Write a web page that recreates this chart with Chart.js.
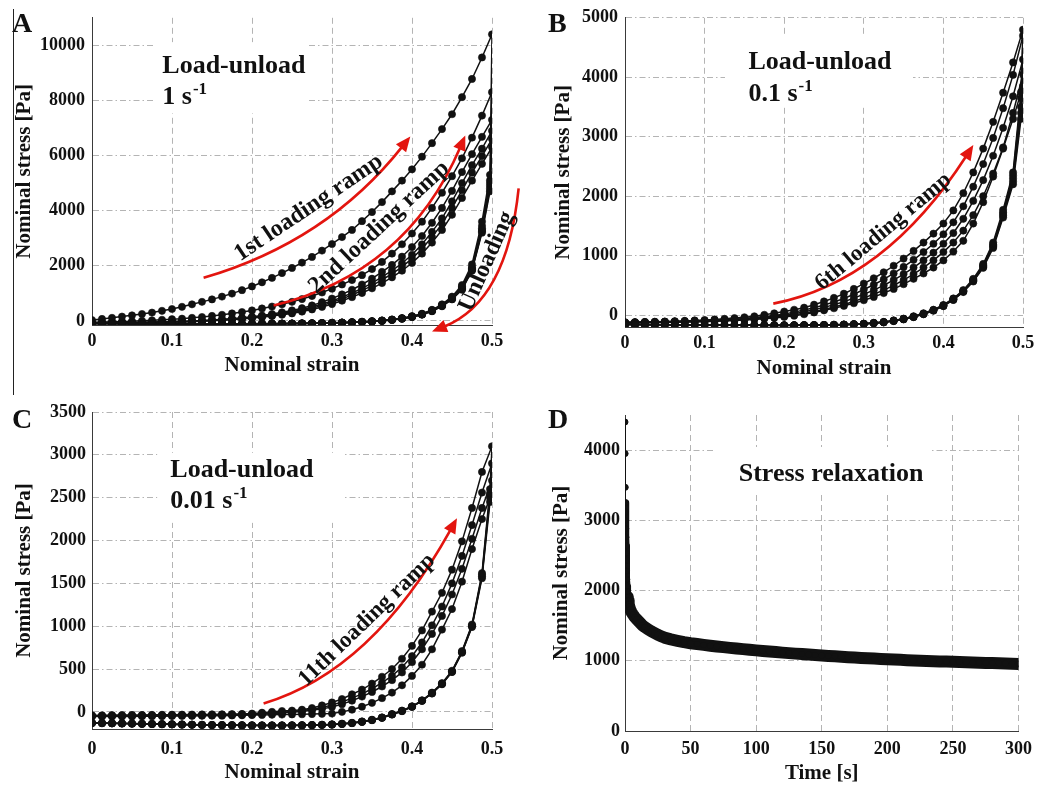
<!DOCTYPE html>
<html lang="en">
<head>
  <meta charset="UTF-8">
  <title>Load-unload and stress relaxation</title>
  <script src="https://cdn.jsdelivr.net/npm/chart.js"></script>
  <style>
    body { margin: 0; background: #fff; }
    #fig { position: relative; width: 1040px; height: 786px; }
    canvas { position: absolute; }
    .rule { position: absolute; left: 13px; top: 9px; width: 1px; height: 386px; background: #222; }
  </style>
</head>
<body>
  <div id="fig">
    <div class="rule"></div>
    <canvas id="panelA" width="520" height="390" style="left:0;top:0"></canvas>
    <canvas id="panelB" width="520" height="390" style="left:520px;top:0"></canvas>
    <canvas id="panelC" width="520" height="396" style="left:0;top:390px"></canvas>
    <canvas id="panelD" width="520" height="396" style="left:520px;top:390px"></canvas>
  </div>

  <script>
    // ---- strain grids (loading goes up, unloading comes back down) ----
    const strain = [0, 0.0125, 0.025, 0.0375, 0.05, 0.0625, 0.075, 0.0875, 0.1, 0.1125, 0.125, 0.1375, 0.15, 0.1625,
      0.175, 0.1875, 0.2, 0.2125, 0.225, 0.2375, 0.25, 0.2625, 0.275, 0.2875, 0.3, 0.3125, 0.325, 0.3375, 0.35, 0.3625,
      0.375, 0.3875, 0.4, 0.4125, 0.425, 0.4375, 0.45, 0.4625, 0.475, 0.4875, 0.5];
    const unloadStrain = [0.4975, 0.4875, 0.475, 0.4625, 0.45, 0.4375, 0.425, 0.4125, 0.4, 0.3875, 0.375, 0.3625, 0.35,
      0.3375, 0.325, 0.3125, 0.3, 0.2875, 0.275, 0.2625, 0.25, 0.2375, 0.225, 0.2125, 0.2, 0.1875, 0.175, 0.1625, 0.15,
      0.1375, 0.125, 0.1125, 0.1, 0.0875, 0.075, 0.0625, 0.05, 0.0375, 0.025, 0.0125, 0];

    const strainTicks = [0, 0.1, 0.2, 0.3, 0.4, 0.5];
    const stressTicksA = [0, 2000, 4000, 6000, 8000, 10000];
    const stressTicksB = [0, 1000, 2000, 3000, 4000, 5000];
    const stressTicksC = [0, 500, 1000, 1500, 2000, 2500, 3000, 3500];
    const stressTicksD = [0, 1000, 2000, 3000, 4000];
    const timeTicks = [0, 50, 100, 150, 200, 250, 300];

    // ---- A: 1 s^-1, six cycles ----
    const aLoad1 = [30, 70, 110, 155, 200, 250, 300, 365, 430, 510, 600, 690, 780, 880, 990, 1115, 1250, 1400, 1560, 1735,
      1920, 2115, 2320, 2550, 2790, 3040, 3300, 3620, 3950, 4310, 4700, 5090, 5500, 5960, 6450, 6960, 7500, 8120, 8780, 9560, 10400];
    const aLoad2 = [-50, -40, -30, -20, -10, 5, 20, 40, 60, 80, 110, 140, 180, 220, 270, 320, 380, 450, 520, 600,
      690, 790, 900, 1030, 1170, 1320, 1480, 1660, 1880, 2140, 2440, 2780, 3170, 3600, 4100, 4650, 5250, 5900, 6650, 7450, 8300];
    const aLoad3 = [-75, -70, -65, -60, -55, -50, -45, -35, -25, -15, -5, 10, 30, 55, 80, 110, 150, 195, 250, 310,
      380, 460, 560, 680, 810, 960, 1130, 1320, 1530, 1780, 2030, 2330, 2680, 3080, 3560, 4100, 4720, 5400, 6050, 6680, 7300];
    const aLoad4 = [-80, -75, -70, -65, -60, -55, -50, -40, -30, -20, -10, 5, 20, 40, 65, 95, 130, 170, 215, 270,
      330, 400, 500, 610, 720, 860, 1010, 1180, 1370, 1600, 1820, 2090, 2400, 2780, 3230, 3720, 4340, 5000, 5650, 6250, 6900];
    const aLoad5 = [-85, -80, -75, -70, -65, -60, -55, -50, -40, -30, -20, -5, 10, 30, 55, 85, 115, 150, 195, 245,
      300, 370, 460, 560, 670, 800, 940, 1100, 1280, 1490, 1710, 1960, 2260, 2620, 3040, 3520, 4100, 4740, 5380, 5980, 6600];
    const aLoad6 = [-90, -85, -80, -75, -70, -65, -60, -55, -50, -40, -30, -15, 0, 20, 45, 70, 100, 135, 175, 220,
      270, 335, 415, 505, 610, 730, 860, 1010, 1180, 1370, 1580, 1820, 2100, 2440, 2840, 3300, 3850, 4460, 5090, 5700, 6300];

    const aUnload1 = [5300, 3600, 2050, 1300, 880, 600, 400, 260, 170, 100, 50, 15, -10, -30, -45, -60, -70, -80, -85, -90,
      -95, -95, -100, -100, -100, -105, -105, -105, -110, -110, -110, -110, -110, -110, -105, -105, -105, -100, -100, -100, -95];
    const aUnload2 = [5100, 3450, 1950, 1250, 850, 580, 390, 250, 160, 95, 45, 10, -15, -35, -50, -62, -72, -80, -88, -92,
      -96, -100, -100, -104, -106, -108, -108, -110, -112, -112, -112, -110, -110, -108, -106, -104, -102, -100, -98, -96, -94];
    const aUnload3 = [5000, 3350, 1900, 1200, 820, 560, 370, 240, 150, 90, 40, 5, -20, -38, -52, -64, -74, -82, -90, -94,
      -98, -100, -102, -105, -107, -108, -110, -110, -112, -113, -112, -112, -110, -108, -106, -104, -102, -100, -98, -96, -95];
    const aUnload4 = [4900, 3300, 1870, 1180, 800, 550, 360, 235, 145, 85, 38, 2, -22, -40, -55, -66, -75, -83, -90, -95,
      -98, -101, -103, -105, -107, -108, -110, -111, -112, -113, -113, -112, -110, -109, -107, -105, -103, -101, -99, -97, -95];
    const aUnload5 = [4800, 3250, 1850, 1150, 790, 540, 355, 230, 140, 80, 35, 0, -24, -42, -56, -67, -76, -84, -91, -95,
      -99, -102, -104, -106, -108, -109, -110, -112, -113, -114, -114, -113, -111, -110, -108, -106, -104, -102, -100, -98, -96];
    const aUnload6 = [4700, 3200, 1820, 1130, 780, 530, 350, 225, 138, 78, 33, -2, -26, -44, -58, -68, -77, -85, -92, -96,
      -100, -103, -105, -107, -109, -110, -111, -113, -114, -115, -115, -114, -112, -111, -109, -107, -105, -103, -101, -99, -97];

    // ---- B: 0.1 s^-1 ----
    const bLoad1 = [-120, -118, -115, -112, -108, -103, -97, -90, -82, -73, -62, -50, -36, -20, 5, 30, 60, 90, 125, 175,
      230, 290, 360, 440, 530, 620, 720, 830, 950, 1080, 1220, 1370, 1540, 1760, 2050, 2400, 2800, 3250, 3740, 4250, 4800];
    const bLoad2 = [-122, -120, -117, -114, -110, -106, -102, -97, -92, -86, -78, -68, -56, -42, -25, -5, 20, 50, 85, 125,
      170, 220, 280, 350, 430, 510, 600, 700, 810, 930, 1060, 1200, 1360, 1560, 1830, 2160, 2540, 2980, 3480, 4040, 4700];
    const bLoad3 = [-125, -123, -120, -117, -114, -110, -106, -101, -96, -90, -83, -74, -64, -52, -38, -20, 0, 25, 55, 90,
      130, 175, 225, 285, 350, 420, 500, 590, 690, 800, 920, 1050, 1200, 1380, 1620, 1920, 2270, 2680, 3150, 3680, 4300];
    const bLoad4 = [-127, -125, -123, -120, -117, -114, -110, -106, -101, -96, -90, -82, -73, -62, -49, -33, -15, 5, 30, 60,
      95, 135, 180, 230, 290, 350, 420, 500, 590, 690, 800, 920, 1060, 1220, 1420, 1680, 2000, 2380, 2820, 3400, 4050];
    const bLoad5 = [-130, -128, -126, -124, -122, -120, -117, -114, -110, -105, -100, -92, -84, -74, -62, -48, -30, -10, 15, 45,
      80, 115, 155, 200, 250, 305, 370, 440, 520, 610, 700, 800, 920, 1070, 1250, 1540, 1900, 2330, 2800, 3300, 3850];

    const bUnload1 = [3750, 2400, 1770, 1220, 860, 610, 420, 280, 170, 90, 30, -20, -60, -90, -115, -130, -145, -152, -158, -162,
      -165, -167, -168, -170, -170, -170, -170, -170, -168, -168, -167, -166, -165, -165, -164, -163, -162, -162, -161, -160, -160];
    const bUnload2 = [3650, 2350, 1730, 1190, 840, 595, 410, 272, 165, 86, 26, -24, -63, -93, -117, -132, -146, -153, -159, -163,
      -166, -168, -169, -170, -171, -171, -170, -169, -168, -167, -166, -165, -164, -163, -162, -161, -160, -159, -158, -157, -156];
    const bUnload3 = [3500, 2300, 1700, 1170, 825, 585, 402, 266, 160, 82, 22, -28, -66, -96, -119, -134, -147, -154, -160, -164,
      -167, -169, -170, -171, -172, -172, -171, -170, -169, -168, -167, -166, -165, -164, -163, -162, -161, -160, -159, -158, -157];
    const bUnload4 = [3400, 2250, 1670, 1150, 810, 575, 395, 260, 155, 78, 18, -31, -69, -98, -121, -136, -148, -155, -161, -165,
      -168, -170, -171, -172, -173, -173, -172, -171, -170, -169, -168, -167, -166, -165, -164, -163, -162, -161, -160, -159, -158];
    const bUnload5 = [3300, 2200, 1640, 1130, 795, 565, 388, 255, 150, 74, 14, -34, -72, -100, -123, -138, -149, -156, -162, -166,
      -169, -171, -172, -173, -174, -174, -173, -172, -171, -170, -169, -168, -167, -166, -165, -164, -163, -162, -161, -160, -159];

    // ---- C: 0.01 s^-1 ----
    const cLoad1 = [-40, -40, -38, -38, -36, -36, -35, -34, -33, -32, -31, -30, -29, -28, -26, -24, -20, -10, 0, 10,
      15, 25, 45, 75, 110, 150, 205, 260, 330, 410, 500, 620, 770, 950, 1170, 1390, 1660, 1990, 2380, 2800, 3100];
    const cLoad2 = [-45, -45, -44, -43, -42, -41, -40, -39, -38, -37, -36, -35, -34, -33, -32, -30, -27, -20, -12, -5,
      5, 15, 30, 50, 80, 115, 160, 210, 270, 340, 420, 520, 650, 810, 1010, 1230, 1500, 1820, 2180, 2560, 2900];
    const cLoad3 = [-50, -50, -49, -48, -47, -46, -45, -44, -43, -42, -41, -40, -39, -38, -36, -34, -31, -26, -20, -12,
      -4, 5, 18, 35, 58, 90, 130, 178, 232, 296, 370, 460, 580, 730, 910, 1120, 1370, 1670, 2020, 2380, 2700];
    const cLoad4 = [-55, -55, -54, -54, -53, -52, -51, -50, -49, -48, -47, -46, -45, -44, -42, -40, -38, -36, -34, -32,
      -30, -28, -26, -23, -20, 0, 25, 60, 105, 160, 225, 310, 420, 550, 730, 960, 1200, 1520, 1900, 2250, 2560];

    const cUnload1 = [2600, 1620, 1020, 710, 480, 335, 225, 135, 65, 15, -25, -65, -92, -112, -128, -138, -146, -150, -153, -155,
      -156, -157, -157, -157, -156, -155, -154, -153, -152, -150, -148, -146, -144, -142, -140, -138, -136, -134, -132, -130, -128];
    const cUnload2 = [2550, 1600, 1010, 700, 472, 330, 220, 132, 62, 12, -28, -67, -94, -114, -130, -140, -147, -151, -154, -156,
      -157, -158, -158, -158, -157, -156, -155, -154, -153, -151, -149, -147, -145, -143, -141, -139, -137, -135, -133, -131, -129];
    const cUnload3 = [2500, 1580, 1000, 695, 468, 326, 217, 130, 60, 10, -30, -69, -96, -116, -131, -141, -148, -152, -155, -157,
      -158, -159, -159, -159, -158, -157, -156, -155, -154, -152, -150, -148, -146, -144, -142, -140, -138, -136, -134, -132, -130];
    const cUnload4 = [2450, 1560, 990, 690, 465, 322, 214, 128, 58, 8, -32, -70, -97, -117, -132, -142, -149, -153, -156, -158,
      -159, -160, -160, -160, -159, -158, -157, -156, -155, -153, -151, -149, -147, -145, -143, -141, -139, -137, -135, -133, -131];

    // ---- D: stress relaxation ----
    const relaxTime = [0, 0.1, 0.2, 0.3, 0.4, 0.5, 0.6, 0.7, 0.8, 0.9, 1, 1.2, 1.4, 1.6, 1.8, 2.1, 2.4, 2.8, 3.3, 4, 5, 6,
      7.5, 9, 11, 13, 15, 17.5, 20, 22.5, 25, 27.5, 30, 35, 40, 45, 50, 55, 60, 65, 70, 75, 80, 85, 90, 95, 100, 105, 110,
      115, 120, 125, 130, 135, 140, 145, 150, 155, 160, 165, 170, 175, 180, 185, 190, 195, 200, 205, 210, 215, 220, 225,
      230, 235, 240, 245, 250, 255, 260, 265, 270, 275, 280, 285, 290, 295, 300];
    const relaxStress = [4400, 3950, 3470, 3250, 3120, 3000, 2880, 2760, 2640, 2530, 2430, 2280, 2160, 2060, 1980, 1910,
      1860, 1810, 1770, 1730, 1690, 1660, 1620, 1590, 1550, 1510, 1480, 1450, 1420, 1395, 1370, 1350, 1330, 1305, 1285,
      1265, 1250, 1238, 1226, 1215, 1204, 1194, 1184, 1175, 1166, 1157, 1148, 1140, 1132, 1124, 1116, 1109, 1102, 1095,
      1088, 1081, 1075, 1069, 1063, 1057, 1051, 1046, 1041, 1036, 1031, 1026, 1021, 1017, 1013, 1009, 1005, 1001, 997,
      994, 991, 988, 985, 982, 979, 976, 973, 970, 967, 964, 961, 958, 955];

    // ---- drawing ----
    const serif = '"Liberation Serif", "Times New Roman", serif';
    const ink = '#111';
    const arrowRed = '#e3150f';

    const curveStyle = {
      showLine: true, borderColor: ink, borderWidth: 1.5,
      pointStyle: 'circle', pointRadius: 3.6, pointHoverRadius: 3.6,
      pointBackgroundColor: ink, pointBorderColor: ink, pointBorderWidth: 0.6
    };

    function cycle(load, unload) {
      const up = strain.map((s, i) => ({x: s, y: load[i]}));
      const down = unloadStrain.map((s, i) => ({x: s, y: unload[i]}));
      return {...curveStyle, data: up.concat(down)};
    }

    // annotations: data coordinates for boxes, arrows and rotated labels
    const notes = {
      panelA: {
        letter: {text: 'A', x: 12, y: 32},
        box: [0.0766, 10117, 0.2704, 7533],
        heading: [{text: 'Load-unload', x: 0.0879, y: 8995}, {text: '1 s', sup: '-1', x: 0.0879, y: 7876}],
        arrows: [
          {from: [0.1395, 1561], ctrl: [0.294, 2874], to: [0.3979, 6694]},
          {from: [0.227, 559], ctrl: [0.393, 1735], to: [0.4666, 6729]},
          {from: [0.5333, 4807], ctrl: [0.5187, 701], to: [0.425, -386]}
        ],
        tags: [
          {text: '1st loading ramp', x: 0.2708, y: 4099, angle: -34, size: 24},
          {text: '2nd loading ramp', x: 0.359, y: 3391, angle: -43, size: 24},
          {text: 'Unloading', x: 0.4937, y: 2152, angle: -66, size: 24}
        ]
      },
      panelB: {
        letter: {text: 'B', x: 28, y: 32},
        box: [0.1256, 4700, 0.3618, 3498],
        heading: [{text: 'Load-unload', x: 0.155, y: 4137}, {text: '0.1 s', sup: '-1', x: 0.155, y: 3602}],
        arrows: [{from: [0.1863, 193], ctrl: [0.3269, 561], to: [0.4376, 2860]}],
        tags: [{text: '6th loading ramp', x: 0.3245, y: 1403, angle: -40, size: 23}]
      },
      panelC: {
        letter: {text: 'C', x: 12, y: 38},
        box: [0.0816, 3024, 0.3141, 2206],
        heading: [{text: 'Load-unload', x: 0.0979, y: 2740}, {text: '0.01 s', sup: '-1', x: 0.0979, y: 2377}],
        arrows: [{from: [0.2145, 98], ctrl: [0.3504, 479], to: [0.4562, 2260]}],
        tags: [{text: '11th loading ramp', x: 0.3437, y: 1072, angle: -44, size: 23}]
      },
      panelD: {
        letter: {text: 'D', x: 28, y: 38},
        box: [69.3, 4044, 232.2, 3404],
        heading: [{text: 'Stress relaxation', x: 86.7, y: 3565}],
        arrows: [],
        tags: []
      }
    };

    function drawArrow(ctx, xs, ys, a) {
      const p0 = [xs.getPixelForValue(a.from[0]), ys.getPixelForValue(a.from[1])];
      const c = [xs.getPixelForValue(a.ctrl[0]), ys.getPixelForValue(a.ctrl[1])];
      const tip = [xs.getPixelForValue(a.to[0]), ys.getPixelForValue(a.to[1])];
      const len = Math.hypot(tip[0] - c[0], tip[1] - c[1]);
      const ux = (tip[0] - c[0]) / len, uy = (tip[1] - c[1]) / len;
      const head = 15, half = 6.5;
      const bx = tip[0] - ux * head, by = tip[1] - uy * head;
      ctx.strokeStyle = arrowRed;
      ctx.fillStyle = arrowRed;
      ctx.lineWidth = 2.6;
      ctx.beginPath();
      ctx.moveTo(p0[0], p0[1]);
      ctx.quadraticCurveTo(c[0], c[1], bx + ux * 2, by + uy * 2);
      ctx.stroke();
      ctx.beginPath();
      ctx.moveTo(tip[0], tip[1]);
      ctx.lineTo(bx - uy * half, by + ux * half);
      ctx.lineTo(bx + uy * half, by - ux * half);
      ctx.closePath();
      ctx.fill();
    }

    const notesPlugin = {
      id: 'notes',
      beforeDatasetsDraw(chart) {
        const n = notes[chart.canvas.id];
        const {ctx} = chart;
        const xs = chart.scales.x, ys = chart.scales.y;
        const [x0, y0, x1, y1] = n.box;
        const l = xs.getPixelForValue(x0), t = ys.getPixelForValue(y0);
        ctx.save();
        ctx.fillStyle = '#fff';
        ctx.fillRect(l, t, xs.getPixelForValue(x1) - l, ys.getPixelForValue(y1) - t);
        ctx.fillStyle = ink;
        ctx.textBaseline = 'alphabetic';
        ctx.textAlign = 'left';
        n.heading.forEach(h => {
          const hx = xs.getPixelForValue(h.x), hy = ys.getPixelForValue(h.y);
          ctx.font = `bold 26px ${serif}`;
          ctx.fillText(h.text, hx, hy);
          if (h.sup) {
            const w = ctx.measureText(h.text).width;
            ctx.font = `bold 17px ${serif}`;
            ctx.fillText(h.sup, hx + w + 1, hy - 10);
          }
        });
        ctx.restore();
      },
      afterDatasetsDraw(chart) {
        const n = notes[chart.canvas.id];
        const {ctx} = chart;
        const xs = chart.scales.x, ys = chart.scales.y;
        ctx.save();
        n.arrows.forEach(a => drawArrow(ctx, xs, ys, a));
        ctx.fillStyle = ink;
        ctx.textAlign = 'center';
        ctx.textBaseline = 'middle';
        n.tags.forEach(t => {
          ctx.save();
          ctx.translate(xs.getPixelForValue(t.x), ys.getPixelForValue(t.y));
          ctx.rotate(t.angle * Math.PI / 180);
          ctx.font = `bold ${t.size}px ${serif}`;
          ctx.fillText(t.text, 0, 0);
          ctx.restore();
        });
        ctx.restore();
      },
      afterDraw(chart) {
        const n = notes[chart.canvas.id];
        const ctx = chart.ctx;
        ctx.save();
        ctx.font = `bold 28px ${serif}`;
        ctx.fillStyle = ink;
        ctx.textAlign = 'left';
        ctx.textBaseline = 'alphabetic';
        ctx.fillText(n.letter.text, n.letter.x, n.letter.y);
        ctx.restore();
      }
    };

    function axis(a, horizontal, size) {
      return {
        type: 'linear',
        min: a.min,
        max: a.max,
        afterFit: s => { if (horizontal) s.height = size; else s.width = size; },
        afterBuildTicks: s => { s.ticks = a.ticks.map(v => ({value: v})); },
        ticks: {
          padding: a.tickPad, color: ink, autoSkip: false, maxRotation: 0,
          font: {family: serif, size: 18, weight: 'bold'},
          callback: v => String(v)
        },
        grid: {color: '#b4b4b4', lineWidth: 1, drawTicks: false},
        border: {display: true, color: '#3a3a3a', width: 1, dash: horizontal ? [6, 4] : [6, 3, 1.5, 3]},
        title: {
          display: true, text: a.title, color: ink,
          font: {family: serif, size: 21, weight: 'bold', lineHeight: 1},
          padding: horizontal ? {top: 0, bottom: a.titlePad} : {top: a.titlePad, bottom: 0}
        }
      };
    }

    function makePanel(id, p) {
      const canvas = document.getElementById(id);
      return new Chart(canvas, {
        type: 'scatter',
        data: {datasets: p.datasets},
        options: {
          responsive: false,
          animation: false,
          events: [],
          layout: {padding: {left: 0, top: p.area.top, right: canvas.width - p.area.right, bottom: 0}},
          plugins: {legend: {display: false}, tooltip: {enabled: false}},
          scales: {
            x: axis(p.x, true, canvas.height - p.area.bottom),
            y: axis(p.y, false, p.area.left)
          }
        },
        plugins: [notesPlugin]
      });
    }

    makePanel('panelA', {
      area: {left: 92, right: 492, top: 10, bottom: 325},
      x: {min: 0, max: 0.5, ticks: strainTicks, tickPad: 6, title: 'Nominal strain', titlePad: 13.7},
      y: {min: -150, max: 11000, ticks: stressTicksA, tickPad: 7, title: 'Nominal stress [Pa]', titlePad: 14.5},
      datasets: [
        cycle(aLoad1, aUnload1), cycle(aLoad2, aUnload2), cycle(aLoad3, aUnload3),
        cycle(aLoad4, aUnload4), cycle(aLoad5, aUnload5), cycle(aLoad6, aUnload6)
      ]
    });

    makePanel('panelB', {
      area: {left: 105, right: 503, top: 12, bottom: 327},
      x: {min: 0, max: 0.5, ticks: strainTicks, tickPad: 5.5, title: 'Nominal strain', titlePad: 10.5},
      y: {min: -200, max: 5000, ticks: stressTicksB, tickPad: 7, title: 'Nominal stress [Pa]', titlePad: 32.8},
      datasets: [
        cycle(bLoad1, bUnload1), cycle(bLoad2, bUnload2), cycle(bLoad3, bUnload3),
        cycle(bLoad4, bUnload4), cycle(bLoad5, bUnload5)
      ]
    });

    makePanel('panelC', {
      area: {left: 92, right: 492, top: 22, bottom: 339},
      x: {min: 0, max: 0.5, ticks: strainTicks, tickPad: 10, title: 'Nominal strain', titlePad: 3},
      y: {min: -200, max: 3500, ticks: stressTicksC, tickPad: 6, title: 'Nominal stress [Pa]', titlePad: 14.5},
      datasets: [
        cycle(cLoad1, cUnload1), cycle(cLoad2, cUnload2), cycle(cLoad3, cUnload3), cycle(cLoad4, cUnload4)
      ]
    });

    makePanel('panelD', {
      area: {left: 105, right: 503, top: 25, bottom: 341},
      x: {min: 0, max: 300, ticks: timeTicks, tickPad: 8, title: 'Time [s]', titlePad: 1.5},
      y: {min: 0, max: 4500, ticks: stressTicksD, tickPad: 5, title: 'Nominal stress [Pa]', titlePad: 31.2},
      datasets: [{
        showLine: true,
        data: relaxTime.map((t, i) => ({x: t, y: relaxStress[i]})),
        borderColor: ink, borderWidth: 11, borderJoinStyle: 'round', borderCapStyle: 'round',
        pointStyle: 'circle', pointRadius: 3, pointHoverRadius: 3, pointBorderWidth: 1,
        pointBackgroundColor: ink, pointBorderColor: ink,
        // thin spike at the step, thick noisy band afterwards
        segment: {borderWidth: ctx => ctx.p0.parsed.x < 0.25 ? 1.5 : (ctx.p0.parsed.x < 2 ? 7 : 12)}
      }]
    });
  </script>
</body>
</html>
